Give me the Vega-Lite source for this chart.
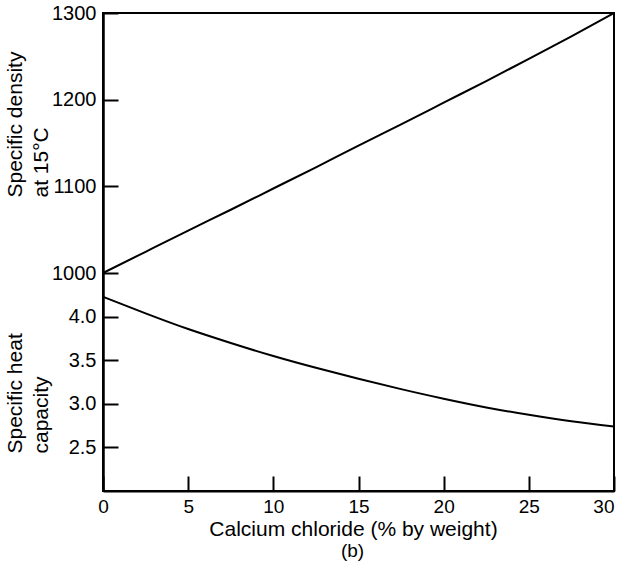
{
  "$schema": "https://vega.github.io/schema/vega-lite/v6.json",
  "autosize": {"type": "none"},
  "padding": {"left": 103, "top": 13, "right": 5, "bottom": 71},
  "width": 511,
  "height": 478,
  "title": {
    "text": "(b)",
    "orient": "bottom",
    "anchor": "middle",
    "fontSize": 19,
    "fontWeight": "normal",
    "font": "Liberation Sans",
    "color": "black",
    "offset": 3,
    "dx": -6
  },
  "data": {
    "values": [
      {"pct": 0, "density": 1000, "heat": 4.23},
      {"pct": 2.5, "density": 1024.5, "heat": 4.04},
      {"pct": 5, "density": 1049, "heat": 3.86},
      {"pct": 7.5, "density": 1073, "heat": 3.7},
      {"pct": 10, "density": 1097.5, "heat": 3.55},
      {"pct": 12.5, "density": 1122, "heat": 3.415},
      {"pct": 15, "density": 1147, "heat": 3.29},
      {"pct": 17.5, "density": 1171.5, "heat": 3.17},
      {"pct": 20, "density": 1196.5, "heat": 3.06},
      {"pct": 22.5, "density": 1221.5, "heat": 2.96},
      {"pct": 25, "density": 1247, "heat": 2.875},
      {"pct": 27.5, "density": 1273, "heat": 2.8},
      {"pct": 30, "density": 1300, "heat": 2.74}
    ]
  },
  "config": {
    "view": {"stroke": "black", "strokeWidth": 2},
    "font": "Liberation Sans",
    "axis": {
      "domainColor": "black",
      "domainWidth": 2,
      "tickColor": "black",
      "tickWidth": 2,
      "tickSize": -15,
      "labelColor": "black",
      "titleColor": "black",
      "labelFontSize": 20,
      "titleFontSize": 21,
      "titleFontWeight": "normal",
      "grid": false
    }
  },
  "encoding": {
    "x": {
      "field": "pct",
      "type": "quantitative",
      "scale": {"domain": [0, 30], "nice": false, "zero": false},
      "axis": {
        "values": [0, 5, 10, 15, 20, 25, 30],
        "labelPadding": 21,
        "labelFontSize": 19,
        "labelFlush": false,
        "labelAlign": {"condition": {"test": "datum.value == 30", "value": "right"}, "value": "center"},
        "title": "Calcium chloride (% by weight)",
        "titleFontSize": 21,
        "titleX": 250,
        "titleY": 44,
        "titleAlign": "center",
        "titleBaseline": "alphabetic"
      }
    }
  },
  "layer": [
    {
      "mark": {"type": "line", "color": "black", "strokeWidth": 2, "interpolate": "natural"},
      "encoding": {
        "y": {
          "field": "density",
          "type": "quantitative",
          "scale": {"domain": [748.5, 1300], "nice": false, "zero": false},
          "axis": {
            "orient": "left",
            "values": [1000, 1100, 1200, 1300],
            "format": "d",
            "labelPadding": 22,
            "title": ["Specific density", "at 15°C"],
            "titleAngle": 270,
            "titleAlign": "left",
            "titleBaseline": "alphabetic",
            "titleX": -82,
            "titleY": 184,
            "titleLineHeight": 26
          }
        }
      }
    },
    {
      "mark": {"type": "line", "color": "black", "strokeWidth": 2, "interpolate": "natural"},
      "encoding": {
        "y": {
          "field": "heat",
          "type": "quantitative",
          "scale": {"domain": [2.0, 7.49], "nice": false, "zero": false},
          "axis": {
            "orient": "left",
            "values": [2.5, 3.0, 3.5, 4.0],
            "format": ".1f",
            "labelPadding": 22,
            "title": ["Specific heat", "capacity"],
            "titleAngle": 270,
            "titleAlign": "left",
            "titleBaseline": "alphabetic",
            "titleX": -82,
            "titleY": 440,
            "titleLineHeight": 26
          }
        }
      }
    }
  ],
  "resolve": {"scale": {"y": "independent"}, "axis": {"y": "independent"}}
}
